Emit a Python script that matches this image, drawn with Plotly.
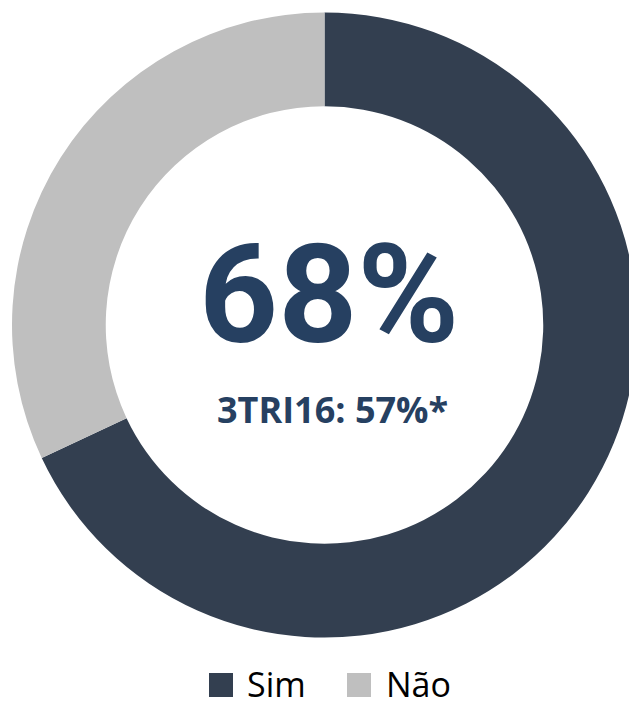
import plotly.graph_objects as go

# Data
labels = ['Sim', 'Não']
values = [68, 32]
colors = ['#333F50', '#BFBFBF']
headline = '68%'
subline = '3TRI16: 57%*'

# page has an 8px body margin, so the figure starts at (8, 8)
OFF = 8
W, H = 629, 693
M_L, M_R, M_T, M_B = 4, 0, 4, 63
PW, PH = W - M_L - M_R, H - M_T - M_B


# reference pixel -> paper coordinates
def px_x(x):
    return (x - OFF - M_L) / PW


def px_y(y):
    return 1 - (y - OFF - M_T) / PH


fig = go.Figure()
fig.add_trace(go.Pie(
    labels=labels,
    values=values,
    hole=0.70,
    sort=False,
    direction='clockwise',
    rotation=0,
    marker=dict(colors=colors, line=dict(width=0)),
    textinfo='none',
    hoverinfo='label+percent',
    showlegend=False,
))

text_color = '#264061'
annotations = [
    dict(text=headline, x=px_x(329), y=px_y(295), xref='paper', yref='paper',
         xanchor='center', yanchor='middle', showarrow=False,
         font=dict(family='Roboto', size=138, color=text_color, weight='bold')),
    dict(text=subline, x=px_x(333), y=px_y(409), xref='paper', yref='paper',
         xanchor='center', yanchor='middle', showarrow=False,
         font=dict(family='Open Sans', size=36, color=text_color, weight='bold')),
]

# custom legend: big squares like the original
shapes = []
legend_pos = [(209, 245), (347, 384)]
for (sq_x, txt_x), lab, col in zip(legend_pos, labels, colors):
    shapes.append(dict(type='rect', xref='paper', yref='paper',
                       x0=px_x(sq_x), x1=px_x(sq_x + 24), y0=px_y(697), y1=px_y(673),
                       fillcolor=col, line=dict(width=0)))
    annotations.append(dict(text=lab, x=px_x(txt_x), y=px_y(684), xref='paper', yref='paper',
                            xanchor='left', yanchor='middle', showarrow=False,
                            font=dict(family='Open Sans', size=34, color='#000000')))

fig.update_layout(
    width=W,
    height=H,
    margin=dict(l=M_L, r=M_R, t=M_T, b=M_B),
    paper_bgcolor='white',
    plot_bgcolor='white',
    annotations=annotations,
    shapes=shapes,
)

fig.write_html("out.html")
